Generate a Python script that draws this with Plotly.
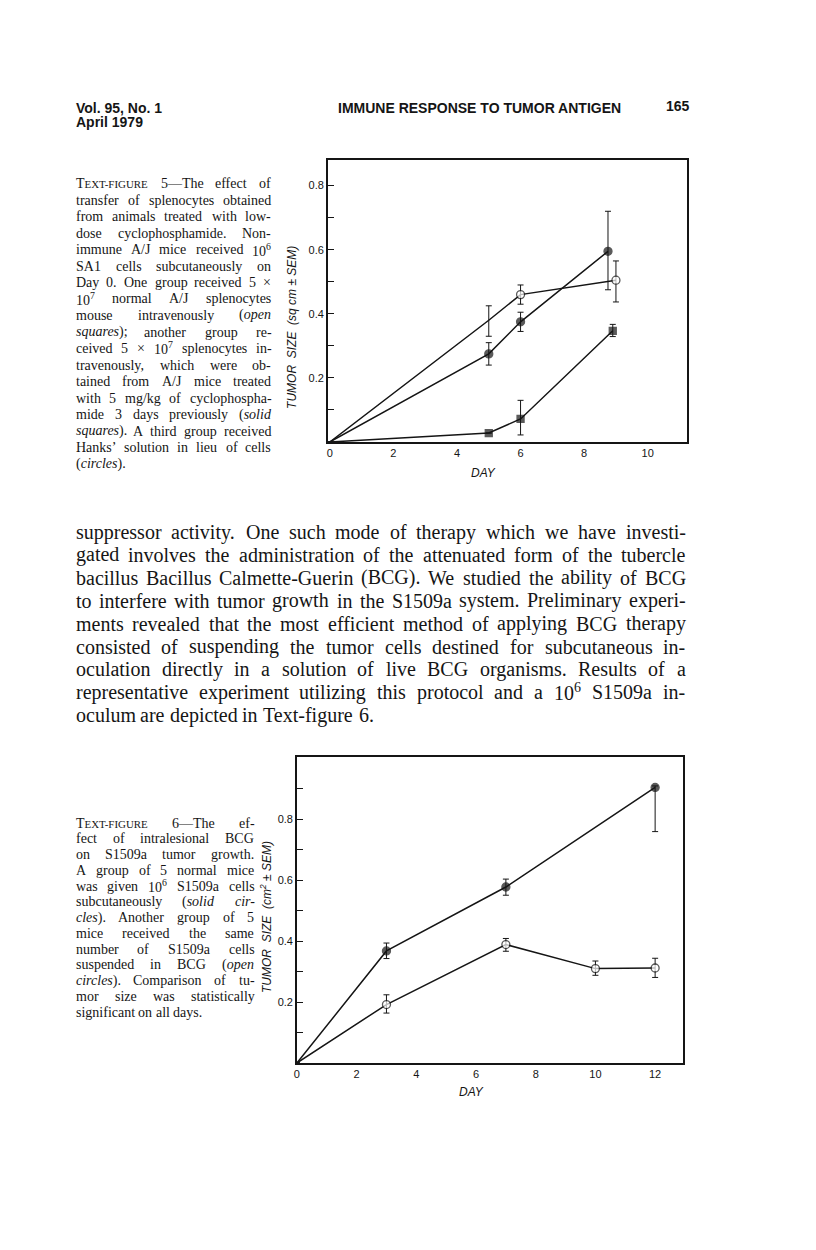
import re
import plotly.graph_objects as go

# ---------------- data (read from the scanned page) ----------------
# Text-figure 5
fig5_open_days = [0, 5, 6, 9]
fig5_open_size = [0, 0.38, 0.46, 0.505]
fig5_open_err_plus = [0, 0.045, 0.03, 0.06]
fig5_open_err_minus = [0, 0.05, 0.03, 0.068]

fig5_circle_days = [0, 5, 6, 8.75]
fig5_circle_size = [0, 0.275, 0.375, 0.595]
fig5_circle_err_plus = [0, 0.035, 0.03, 0.125]
fig5_circle_err_minus = [0, 0.035, 0.03, 0.12]

fig5_square_days = [0, 5, 6, 8.9]
fig5_square_size = [0, 0.028, 0.072, 0.347]
fig5_square_err_plus = [0, 0, 0.058, 0.02]
fig5_square_err_minus = [0, 0, 0.05, 0.018]

fig5_x_ticks = [0, 2, 4, 6, 8, 10]
fig5_y_ticks = [0.2, 0.4, 0.6, 0.8]
fig5_y_minor = [0.1, 0.3, 0.5, 0.7]

# Text-figure 6
fig6_solid_days = [0, 3, 7, 12]
fig6_solid_size = [0, 0.368, 0.578, 0.905]
fig6_solid_err_plus = [0, 0.026, 0.026, 0.005]
fig6_solid_err_minus = [0, 0.025, 0.027, 0.145]

fig6_open_days = [0, 3, 7, 10, 12]
fig6_open_size = [0, 0.192, 0.389, 0.31, 0.312]
fig6_open_err_plus = [0, 0.032, 0.02, 0.025, 0.032]
fig6_open_err_minus = [0, 0.028, 0.022, 0.022, 0.031]

fig6_x_ticks = [0, 2, 4, 6, 8, 10, 12]
fig6_y_ticks = [0.2, 0.4, 0.6, 0.8]
fig6_y_minor = [0.1, 0.3, 0.5, 0.7, 0.9]

# ---------------- page text ----------------
header_left = ["Vol. 95, No. 1", "April 1979"]
header_center = "IMMUNE RESPONSE TO TUMOR ANTIGEN"
page_number = "165"

caption5_lines = [
    "T{EXT-FIGURE} 5—The effect of",
    "transfer of splenocytes obtained",
    "from animals treated with low-",
    "dose cyclophosphamide. Non-",
    "immune A/J mice received 10<sup>6</sup>",
    "SA1 cells subcutaneously on",
    "Day 0. One group received 5 ×",
    "10<sup>7</sup> normal A/J splenocytes",
    "mouse intravenously (<i>open</i>",
    "<i>squares</i>); another group re-",
    "ceived 5 × 10<sup>7</sup> splenocytes in-",
    "travenously, which were ob-",
    "tained from A/J mice treated",
    "with 5 mg/kg of cyclophospha-",
    "mide 3 days previously (<i>solid</i>",
    "<i>squares</i>). A third group received",
    "Hanks’ solution in lieu of cells",
    "(<i>circles</i>).",
]

body_lines = [
    "suppressor activity. One such mode of therapy which we have investi-",
    "gated involves the administration of the attenuated form of the tubercle",
    "bacillus Bacillus Calmette-Guerin (BCG). We studied the ability of BCG",
    "to interfere with tumor growth in the S1509a system. Preliminary experi-",
    "ments revealed that the most efficient method of applying BCG therapy",
    "consisted of suspending the tumor cells destined for subcutaneous in-",
    "oculation directly in a solution of live BCG organisms. Results of a",
    "representative experiment utilizing this protocol and a 10<sup>6</sup> S1509a in-",
    "oculum are depicted in Text-figure 6.",
]

caption6_lines = [
    "T{EXT-FIGURE} 6—The ef-",
    "fect of intralesional BCG",
    "on S1509a tumor growth.",
    "A group of 5 normal mice",
    "was given 10<sup>6</sup> S1509a cells",
    "subcutaneously (<i>solid</i> <i>cir-</i>",
    "<i>cles</i>). Another group of 5",
    "mice received the same",
    "number of S1509a cells",
    "suspended in BCG (<i>open</i>",
    "<i>circles</i>). Comparison of tu-",
    "mor size was statistically",
    "significant on all days.",
]

# ---------------- styling / geometry ----------------
W, H = 816, 1250
INK = "#151515"
SERIF = "Liberation Serif"
SANS = "Liberation Sans"
SC = 0.78  # small-caps scale


def px(x):
    return x / W


def py(y):
    return 1 - y / H


# Times / Liberation Serif advance widths (1/1000 em)
TIMES = {}
TIMES.update(dict(zip("abcdefghijklmnopqrstuvwxyz",
                      [444, 500, 444, 500, 444, 333, 500, 500, 278, 278, 500, 278, 778,
                       500, 500, 500, 500, 333, 389, 278, 500, 500, 722, 500, 500, 444])))
TIMES.update(dict(zip("ABCDEFGHIJKLMNOPQRSTUVWXYZ",
                      [722, 667, 667, 722, 611, 556, 722, 722, 333, 389, 722, 611, 889,
                       722, 722, 556, 722, 667, 556, 611, 722, 722, 944, 722, 722, 611])))
TIMES.update({d: 500 for d in "0123456789"})
TIMES.update({" ": 250, ".": 250, ",": 250, ";": 278, ":": 278, "-": 333, "(": 333,
              ")": 333, "/": 278, "'": 333, "’": 333, "×": 564, "±": 564, "—": 1000})


def word_width(word, fs):
    total = 0.0
    scale = 1.0
    for tok in re.split(r"(<[^>]+>|\{|\})", word):
        if tok == "<sup>":
            scale = 0.7
        elif tok == "</sup>":
            scale = 1.0
        elif tok == "{":
            scale = SC
        elif tok == "}":
            scale = 1.0
        elif tok.startswith("<") or tok == "":
            continue
        else:
            for ch in tok:
                total += TIMES.get(ch, 500) * scale
    return total / 1000.0 * fs


def render(word, fs):
    return word.replace("{", '<span style="font-size:%.1fpx">' % (fs * SC)).replace("}", "</span>")


def text_block(lines, left, right, y0, dy, fs):
    anns = []
    for i, line in enumerate(lines):
        words = line.split(" ")
        widths = [word_width(w, fs) for w in words]
        last = i == len(lines) - 1
        if last or len(words) == 1:
            gap = 0.25 * fs
        else:
            gap = (right - left - sum(widths)) / (len(words) - 1)
        x = left
        y = y0 + i * dy
        for w, ww in zip(words, widths):
            anns.append(dict(text=render(w, fs), x=px(x), y=py(y), xref="paper", yref="paper",
                             xanchor="left", yanchor="middle", showarrow=False,
                             borderpad=0, borderwidth=0,
                             font=dict(family=SERIF, size=fs, color=INK)))
            x += ww + gap
    return anns


annotations = []
# header
annotations.append(dict(text=header_left[0], x=px(73), y=py(108), xanchor="left"))
annotations.append(dict(text=header_left[1], x=px(73), y=py(122), xanchor="left"))
annotations.append(dict(text=header_center, x=px(478), y=py(108), xanchor="center"))
annotations.append(dict(text=page_number, x=px(677), y=py(106), xanchor="center"))
for a in annotations:
    a.update(xref="paper", yref="paper", yanchor="middle", showarrow=False,
             borderpad=0, borderwidth=0,
             font=dict(family=SANS, size=14, color=INK, weight="bold"))

# text blocks
annotations += text_block(caption5_lines, 73, 269, 183.5, 16.5, 14)
annotations += text_block(body_lines, 73, 685, 532, 22.9, 20)
annotations += text_block(caption6_lines, 73, 252, 823, 15.75, 14)

# axis titles
NB = "\u00a0"
axis_titles = [
    ("<i>DAY</i>", 482, 473, 0),
    ("<i>TUMOR" + NB * 2 + "SIZE" + NB * 2 + "(sq cm ± SEM)</i>", 290, 327, -90),
    ("<i>DAY</i>", 470, 1092, 0),
    ("<i>TUMOR" + NB * 2 + "SIZE" + NB * 2 + "(cm<sup>2</sup> ± SEM)</i>", 264, 917, -90),
]
for t, x, y, ang in axis_titles:
    annotations.append(dict(text=t, x=px(x), y=py(y), xref="paper", yref="paper",
                            xanchor="center", yanchor="middle", showarrow=False, textangle=ang,
                            font=dict(family=SANS, size=12, color=INK)))

# ---------------- traces ----------------
fig = go.Figure()


def add_series(days, vals, ep, em, symbol, filled, size, xa, ya, hide=()):
    sizes = [0 if (d == 0 or i in hide) else size for i, d in enumerate(days)]
    fig.add_trace(go.Scatter(
        x=days, y=vals, mode="lines+markers", xaxis=xa, yaxis=ya,
        line=dict(color=INK, width=1.5),
        marker=dict(symbol=symbol, size=sizes, color=INK if filled else "white",
                    line=dict(color=INK, width=1.3)),
        error_y=dict(type="data", symmetric=False, array=ep, arrayminus=em,
                     color=INK, thickness=1, width=3),
        cliponaxis=False, hoverinfo="skip"))


add_series(fig5_open_days, fig5_open_size, fig5_open_err_plus, fig5_open_err_minus,
           "circle", False, 8, "x", "y", hide=(1,))
add_series(fig5_circle_days, fig5_circle_size, fig5_circle_err_plus, fig5_circle_err_minus,
           "circle", True, 8, "x", "y")
add_series(fig5_square_days, fig5_square_size, fig5_square_err_plus, fig5_square_err_minus,
           "square", True, 7, "x", "y")
add_series(fig6_solid_days, fig6_solid_size, fig6_solid_err_plus, fig6_solid_err_minus,
           "circle", True, 8, "x2", "y2")
add_series(fig6_open_days, fig6_open_size, fig6_open_err_plus, fig6_open_err_minus,
           "circle", False, 8, "x2", "y2")

axis_common = dict(showgrid=False, zeroline=False, showline=True, mirror=True,
                   linecolor=INK, linewidth=1.5, tickcolor=INK,
                   tickfont=dict(family=SANS, size=11, color=INK), fixedrange=True)
minor_common = dict(ticks="inside", ticklen=6, tickwidth=1, tickcolor=INK, showgrid=False)

fig.update_layout(
    width=W, height=H, margin=dict(l=0, r=0, t=0, b=0),
    paper_bgcolor="white", plot_bgcolor="white", showlegend=False,
    annotations=annotations,
    xaxis=dict(domain=[px(326), px(687)], range=[-0.063, 11.25], anchor="y",
               tickmode="array", tickvals=fig5_x_ticks, ticks="", **axis_common),
    yaxis=dict(domain=[py(442), py(160)], range=[0, 0.88], anchor="x",
               tickmode="array", tickvals=fig5_y_ticks,
               ticks="inside", ticklen=6, tickwidth=1,
               minor=dict(tickmode="array", tickvals=fig5_y_minor, **minor_common),
               **axis_common),
    xaxis2=dict(domain=[px(295), px(683)], range=[0, 12.95], anchor="y2",
                tickmode="array", tickvals=fig6_x_ticks, ticks="", **axis_common),
    yaxis2=dict(domain=[py(1063), py(757)], range=[0, 1.005], anchor="x2",
                tickmode="array", tickvals=fig6_y_ticks,
                ticks="inside", ticklen=6, tickwidth=1,
                minor=dict(tickmode="array", tickvals=fig6_y_minor, **minor_common),
                **axis_common),
)

fig.write_html("out.html", config={"displayModeBar": False},
               post_script="document.body.style.margin='0';document.body.style.padding='0';")
